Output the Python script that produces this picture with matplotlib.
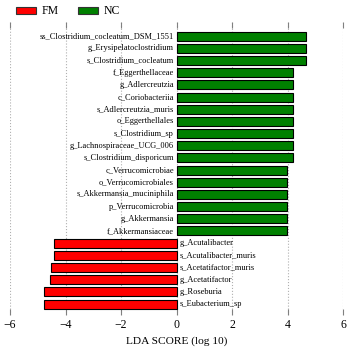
import matplotlib
matplotlib.use('Agg')
import matplotlib.pyplot as plt
from matplotlib.patches import Patch

# features from bottom to top
features = ['s_Eubacterium_sp', 'g_Roseburia', 'g_Acetatifactor',
            's_Acetatifactor_muris', 's_Acutalibacter_muris', 'g_Acutalibacter',
            'f_Akkermansiaceae', 'g_Akkermansia', 'p_Verrucomicrobia',
            's_Akkermansia_muciniphila', 'o_Verrucomicrobiales', 'c_Verrucomicrobiae',
            's_Clostridium_disporicum', 'g_Lachnospiraceae_UCG_006', 's_Clostridium_sp',
            'o_Eggerthellales', 's_Adlercreutzia_muris', 'c_Coriobacteriia',
            'g_Adlercreutzia', 'f_Eggerthellaceae', 's_Clostridium_cocleatum',
            'g_Erysipelatoclostridium', 'ss_Clostridium_cocleatum_DSM_1551']
lda = [-4.77, -4.77, -4.55, -4.54, -4.42, -4.41,
       3.99, 3.99, 3.99, 3.99, 3.99, 3.99,
       4.18, 4.18, 4.18, 4.19, 4.19, 4.19,
       4.19, 4.19, 4.64, 4.64, 4.64]
groups = ['FM', 'NC']
colors = {'FM': '#ff0000', 'NC': '#008000'}

plt.rcParams['font.family'] = 'Liberation Serif'

fig = plt.figure(figsize=(3.51, 3.51), dpi=100)
ax = fig.add_axes([0.0285, 0.1026, 0.9495, 0.8344])

pos = list(range(len(features)))
bar_cols = [colors['FM'] if v < 0 else colors['NC'] for v in lda]
ax.barh(pos, lda, height=0.74, color=bar_cols, edgecolor='black',
        linewidth=0.8, zorder=3)

# labels sit on the other side of zero
for p, name, v in zip(pos, features, lda):
    if v > 0:
        ax.text(-0.1, p, name, ha='right', va='center', fontsize=6.0, zorder=4)
    else:
        ax.text(0.1, p, name, ha='left', va='center', fontsize=6.0, zorder=4)

ax.set_xlim(-6, 6)
ax.set_ylim(-0.9, 23.15)
ax.set_xticks([-6, -4, -2, 0, 2, 4, 6])
ax.set_yticks([])
ax.xaxis.grid(True, linestyle=':', color='#b0b0b0', linewidth=0.8, zorder=0)
for s in ax.spines.values():
    s.set_visible(False)
ax.tick_params(axis='x', direction='in', top=True, length=4, width=0.8,
               color='#808080', labelsize=8.5, pad=3)
ax.set_xlabel('LDA SCORE (log 10)', fontsize=8.2, labelpad=4)

handles = [Patch(facecolor=colors[g], edgecolor='#333333', linewidth=0.8) for g in groups]
fig.legend(handles, groups, loc='upper left', bbox_to_anchor=(0.025, 1.005), ncol=2,
           frameon=False, fontsize=8.5, handlelength=1.7, handleheight=0.55,
           columnspacing=1.6, handletextpad=0.5, borderaxespad=0.2)

fig.savefig('out.png', dpi=100)
plt.close()
